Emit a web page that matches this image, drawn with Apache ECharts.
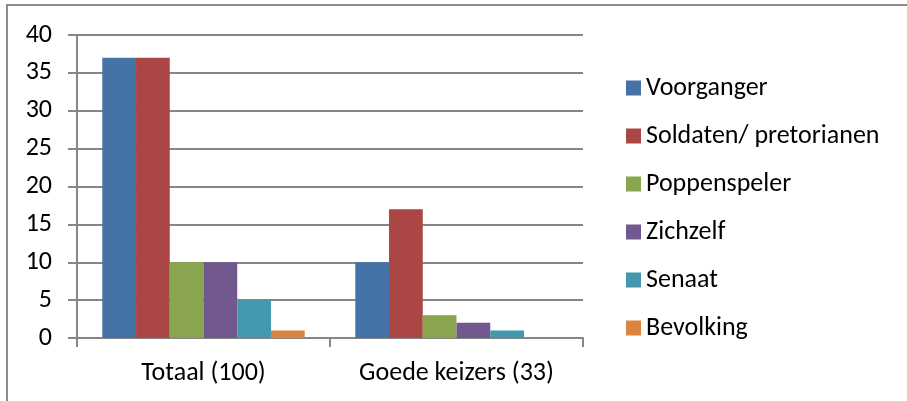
<!DOCTYPE html>
<html>
<head>
    <meta charset="utf-8" />
    <title>Keizers</title>
    <script src="https://cdnjs.cloudflare.com/ajax/libs/echarts/6.0.0/echarts.min.js"></script>
    <style>
        body, html {
            margin: 0;
            padding: 0;
            background: #fff;
        }
        #chart {
            width: 907px;
            height: 401px;
        }
    </style>
</head>
<body>
<div id="chart"></div>
<script type="text/javascript">
    // data
    var categories = ['Totaal (100)', 'Goede keizers (33)'];
    var seriesNames = ['Voorganger', 'Soldaten/ pretorianen', 'Poppenspeler', 'Zichzelf', 'Senaat', 'Bevolking'];
    var voorganger = [37, 10];
    var soldaten = [37, 17];
    var poppenspeler = [10, 3];
    var zichzelf = [10, 2];
    var senaat = [5, 1];
    var bevolking = [1, 0];
    var yTicks = [0, 5, 10, 15, 20, 25, 30, 35, 40];

    var values = [voorganger, soldaten, poppenspeler, zichzelf, senaat, bevolking];
    var colors = ['#4572A7', '#AA4643', '#89A54E', '#71588F', '#4198AF', '#DB843D'];
    var fontFam = 'Carlito, Calibri, "Liberation Sans", sans-serif';

    var chart = echarts.init(document.getElementById('chart'));

    var series = seriesNames.map(function (name, i) {
        return {
            name: name,
            type: 'bar',
            data: values[i],
            barGap: 0,
            barCategoryGap: '20%',
            itemStyle: { color: colors[i] }
        };
    });

    var option = {
        animation: false,
        textStyle: { fontFamily: fontFam },
        graphic: [{
            type: 'rect',
            shape: { x: 7, y: 5, width: 1000, height: 500 },
            style: { fill: 'none', stroke: '#8c8c8c', lineWidth: 2 },
            silent: true
        }],
        grid: {
            left: 77,
            right: 324,
            top: 35,
            bottom: 63
        },
        legend: {
            orient: 'vertical',
            left: 621,
            top: 70,
            itemWidth: 15,
            itemHeight: 15,
            itemGap: 22,
            icon: 'rect',
            data: seriesNames,
            textStyle: { fontSize: 26, color: '#000', fontFamily: fontFam, lineHeight: 26 }
        },
        xAxis: {
            type: 'category',
            data: categories,
            axisLine: { lineStyle: { color: '#868686', width: 2 } },
            axisTick: { show: true, length: 9, lineStyle: { color: '#868686', width: 2 } },
            axisLabel: { interval: 0, fontSize: 26, color: '#000', margin: 22, fontFamily: fontFam }
        },
        yAxis: {
            type: 'value',
            min: yTicks[0],
            max: yTicks[yTicks.length - 1],
            interval: 5,
            axisLine: { show: true, lineStyle: { color: '#868686', width: 2 } },
            axisTick: { show: true, length: 9, lineStyle: { color: '#868686', width: 2 } },
            splitLine: { lineStyle: { color: '#868686', width: 2 } },
            axisLabel: { fontSize: 26, color: '#000', margin: 25, fontFamily: fontFam }
        },
        series: series
    };
    chart.setOption(option);
</script>
</body>
</html>
